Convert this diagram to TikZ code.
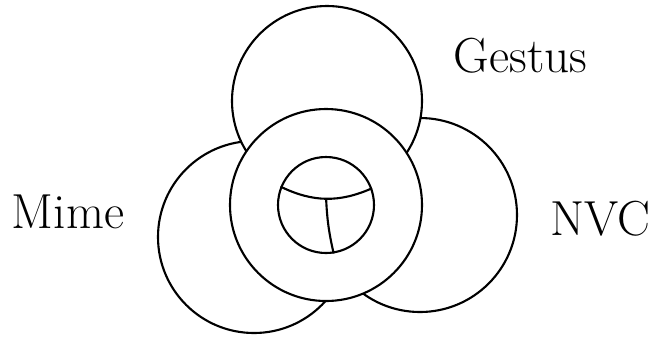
\documentclass[tikz,border=0pt]{standalone}
\usepackage{tikz}
\usetikzlibrary{positioning}

\begin{document}
\begin{tikzpicture}[
    disc/.style={circle, draw=black, fill=white, line width=1.2pt, inner sep=0pt},
    part/.style={draw=black, line width=1.2pt},
    lbl/.style={anchor=base, font=\fontsize{28}{32}\selectfont}
]

\useasboundingbox (0,0) rectangle (13.16,-6.74);

% Outer circles (left and right lie under the top one)
\node[disc, minimum size=3.84cm] (mime) at (5.08, -4.74) {};
\node[disc, minimum size=3.88cm] (nvc) at (8.40, -4.30) {};
\node[disc, minimum size=3.80cm] (gestus) at (6.54, -2.02) {};

% Middle ring and inner circle
\node[disc, minimum size=3.84cm] (ring) at (6.52, -4.10) {};
\node[disc, minimum size=1.92cm] (inner) at (6.52, -4.10) {};

% Inner division
\draw[part] (inner.158) to[bend right=25] coordinate[pos=0.5] (cut) (inner.20);
\draw[part] (cut) to[bend right=5] (inner.-81);

% Labels
\node[lbl] (lmime) at (1.36, -4.56) {Mime};
\node[lbl] (lgestus) at (10.41, -1.44) {Gestus};
\node[lbl] (lnvc) at (12.00, -4.70) {NVC};

\end{tikzpicture}
\end{document}
